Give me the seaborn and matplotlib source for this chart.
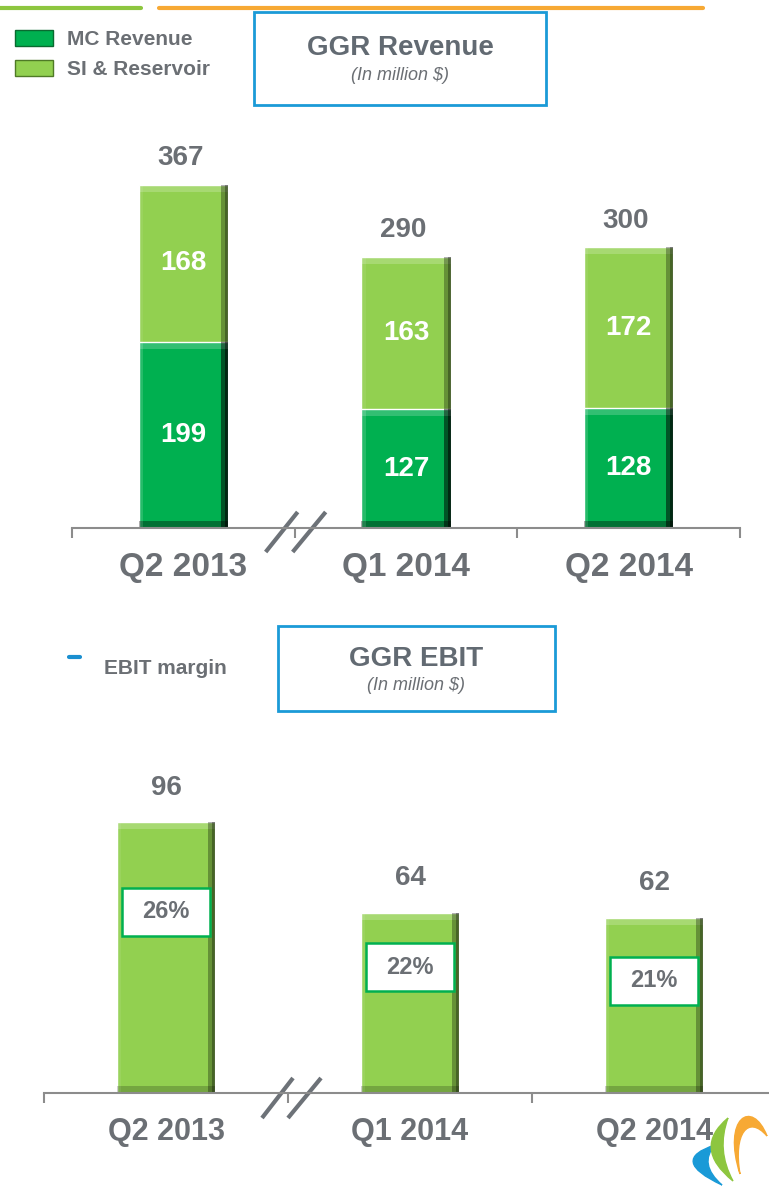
import matplotlib
matplotlib.use("Agg")
import matplotlib.pyplot as plt
import matplotlib.transforms as mtransforms
import seaborn as sns
import pandas as pd
from matplotlib.patches import Rectangle, Patch, PathPatch
from matplotlib.lines import Line2D
from matplotlib.path import Path

# DATA ===========================================================================
quarters = ["Q2 2013", "Q1 2014", "Q2 2014"]
mc_revenue = [199, 127, 128]
si_reservoir = [168, 163, 172]
total_revenue = [367, 290, 300]
ebit = [96, 64, 62]
ebit_margin = [26, 22, 21]

# STYLE ==========================================================================
DARK = "#00B050"
LIGHT = "#92D050"
GREY = "#6b6f74"
AXIS = "#8c8c8c"
BLUE = "#1b9ad7"

sns.set_theme(style="white")
plt.rcParams["font.family"] = ["Liberation Sans", "DejaVu Sans"]

W, H = 769, 1188
fig = plt.figure(figsize=(W / 100, H / 100), dpi=100)
# pixel coords (origin top-left) -> figure
px = mtransforms.Affine2D().scale(1 / W, -1 / H).translate(0, 1) + fig.transFigure


def box(x0, y0, x1, y1):
    return [x0 / W, 1 - y1 / H, (x1 - x0) / W, (y1 - y0) / H]


def bevel(ax, ppx, ppy, t=7):
    # fake the powerpoint bevel on every bar
    for p in list(ax.patches):
        x, y, w, h = p.get_x(), p.get_y(), p.get_width(), p.get_height()
        bx, by = t / ppx, t / ppy
        ax.add_patch(Rectangle((x, y + h - by), w, by, fc="white", alpha=0.2, lw=0))
        ax.add_patch(Rectangle((x, y), w, by, fc="black", alpha=0.2, lw=0))
        ax.add_patch(Rectangle((x + w - bx, y), bx, h, fc="black", alpha=0.3, lw=0))
        ax.add_patch(Rectangle((x + w - bx * 0.4, y), bx * 0.4, h, fc="black", alpha=0.3, lw=0))
        ax.add_patch(Rectangle((x, y), bx * 0.6, h, fc="white", alpha=0.08, lw=0))


def style_axis(ax, ymax, label_size, pad):
    ax.set_ylim(0, ymax)
    ax.set_xlim(-0.5, 2.5)
    ax.set_yticks([])
    ax.set_ylabel("")
    ax.set_xlabel("")
    ax.patch.set_alpha(0)
    sns.despine(ax=ax, left=True)
    ax.spines["bottom"].set_color(AXIS)
    ax.spines["bottom"].set_linewidth(1.5)
    ax.set_xticks([-0.5, 0.5, 1.5, 2.5])
    ax.set_xticklabels([])
    ax.set_xticks(range(len(quarters)), minor=True)
    ax.set_xticklabels(quarters, minor=True)
    ax.tick_params(which="major", bottom=True, length=7, width=1.5, color=AXIS, direction="out")
    ax.tick_params(which="minor", bottom=True, length=0, pad=pad, labelsize=label_size, labelcolor=GREY)
    for lbl in ax.get_xticklabels(minor=True):
        lbl.set_fontweight("bold")


def axis_break(ax, cat_px, ppy, slashes):
    for dx0, dx1, below, above in slashes:
        ax.plot([0.5 + dx0 / cat_px, 0.5 + dx1 / cat_px], [-below / ppy, above / ppy],
                color="#6d7278", lw=3, clip_on=False, solid_capstyle="butt")


df = pd.DataFrame({"quarter": quarters, "mc": mc_revenue, "si": si_reservoir, "total": total_revenue})

# TOP: GGR REVENUE ===============================================================
top = (72, 136, 740, 528)
ymax1 = 419
ax1 = fig.add_axes(box(*top))
ppy1 = (top[3] - top[1]) / ymax1
cat1 = (top[2] - top[0]) / 3
sns.barplot(data=df, x="quarter", y="total", color=LIGHT, saturation=1, width=0.4, ax=ax1)
sns.barplot(data=df, x="quarter", y="mc", color=DARK, saturation=1, width=0.4, ax=ax1)
bevel(ax1, cat1, ppy1)
style_axis(ax1, ymax1, 24, 17)

for i in range(len(quarters)):
    ax1.text(i, mc_revenue[i] / 2, str(mc_revenue[i]), ha="center", va="center",
             color="white", fontsize=20, fontweight="bold")
    ax1.text(i, mc_revenue[i] + si_reservoir[i] / 2, str(si_reservoir[i]), ha="center", va="center",
             color="white", fontsize=20, fontweight="bold")
    ax1.annotate(str(total_revenue[i]), (i, total_revenue[i]), xytext=(-2, 19), textcoords="offset points",
                 ha="center", va="center", color=GREY, fontsize=20, fontweight="bold")

axis_break(ax1, cat1, ppy1, [(-29, 3, 24, 16), (-2, 31, 24, 16)])

leg = ax1.legend(handles=[Patch(fc=DARK, ec="#0a6a30"), Patch(fc=LIGHT, ec="#4f7a26")],
                 labels=["MC Revenue", "SI & Reservoir"], loc="upper left",
                 bbox_to_anchor=(15, 30), bbox_transform=px, frameon=False,
                 prop={"size": 15, "weight": "bold"}, labelcolor=GREY,
                 handlelength=1.8, handleheight=0.8, handletextpad=0.7, labelspacing=0.5,
                 borderpad=0, borderaxespad=0)

# BOTTOM: GGR EBIT ===============================================================
bot = (44, 745, 776, 1093)
ymax2 = 123.4
ax2 = fig.add_axes(box(*bot))
ppy2 = (bot[3] - bot[1]) / ymax2
cat2 = (bot[2] - bot[0]) / 3
sns.barplot(x=quarters, y=ebit, color=LIGHT, saturation=1, width=0.4, ax=ax2)
bevel(ax2, cat2, ppy2)
style_axis(ax2, ymax2, 22, 17)

for i in range(len(quarters)):
    ax2.annotate(str(ebit[i]), (i, ebit[i]), xytext=(0, 25), textcoords="offset points",
                 ha="center", va="center", color=GREY, fontsize=20, fontweight="bold")

axis_break(ax2, cat2, ppy2, [(-26, 5, 25, 15), (0, 33, 25, 15)])

# margin boxes on a hidden twin scale
ax2b = ax2.twinx()
ax2b.patch.set_alpha(0)
m_ppy = 13.8
m0 = 12.88
ax2b.set_ylim(m0, m0 + (bot[3] - bot[1]) / m_ppy)
ax2b.set_yticks([])
for s in ax2b.spines.values():
    s.set_visible(False)
bw, bh = 88 / cat2, 48 / m_ppy
for i, m in enumerate(ebit_margin):
    ax2b.add_patch(Rectangle((i - bw / 2, m - bh / 2), bw, bh, fc="white", ec=DARK, lw=1.8))
    ax2b.text(i, m, f"{m}%", ha="center", va="center", color=GREY, fontsize=17, fontweight="bold")

fig.add_artist(Line2D([69, 80], [657, 657], transform=px, color="#1a8fd0", lw=3))
fig.text(104, 669, "EBIT margin", transform=px, ha="left", va="center",
         color=GREY, fontsize=15, fontweight="bold")

# TITLES & DECORATION ============================================================
fig.add_artist(Line2D([0, 141], [8, 8], transform=px, color="#8DC63F", lw=3))
fig.add_artist(Line2D([159, 703], [8, 8], transform=px, color="#F7A934", lw=3))

fig.add_artist(Rectangle((254, 12), 292, 93, transform=px, fill=False, ec=BLUE, lw=2))
fig.text(400, 48, "GGR Revenue", transform=px, ha="center", va="center",
         color="#626a72", fontsize=20, fontweight="bold")
fig.text(400, 75, "(In million $)", transform=px, ha="center", va="center",
         color=GREY, fontsize=13, fontstyle="italic")

fig.add_artist(Rectangle((278, 626), 277, 85, transform=px, fill=False, ec=BLUE, lw=2))
fig.text(416, 659, "GGR EBIT", transform=px, ha="center", va="center",
         color="#626a72", fontsize=20, fontweight="bold")
fig.text(416, 686, "(In million $)", transform=px, ha="center", va="center",
         color=GREY, fontsize=13, fontstyle="italic")

# rough logo swooshes, behind the tick label
C3, C4, MV = Path.CURVE3, Path.CURVE4, Path.MOVETO
logo = [
    ([(715, 1145), (668, 1160), (722, 1185), (698, 1164), (715, 1145)],
     [MV, C3, C3, C3, C3], "#1a9ad7"),
    ([(728, 1118), (692, 1148), (733, 1181), (716, 1150), (728, 1118)],
     [MV, C3, C3, C3, C3], "#8DC63F"),
    ([(767, 1136), (752, 1098), (722, 1118), (740, 1174), (733, 1134), (748, 1114), (767, 1136)],
     [MV, C4, C4, C4, C4, C4, C4], "#F7A934"),
]
for pts, codes, col in logo:
    fig.add_artist(PathPatch(Path(pts, codes), transform=px, fc=col, ec=col, lw=1, zorder=-1))

fig.savefig("out.png", dpi=100)
